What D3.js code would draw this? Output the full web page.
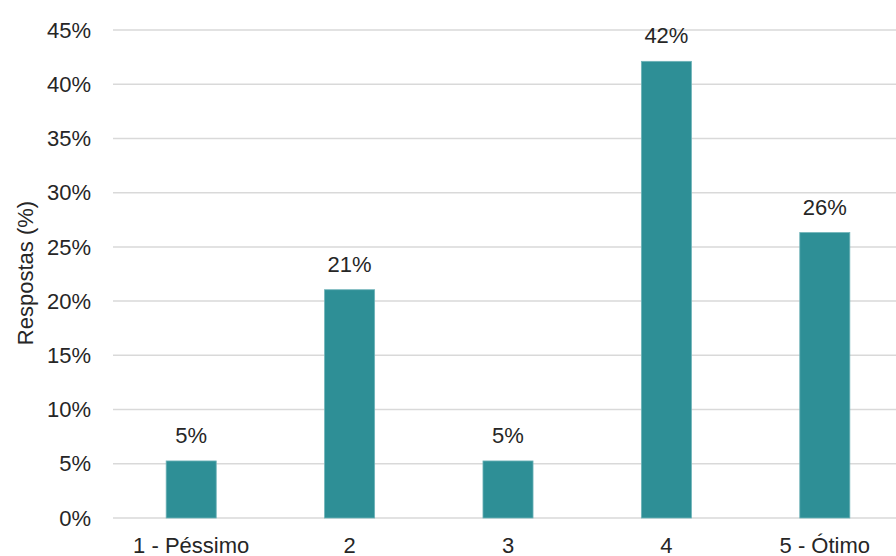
<!DOCTYPE html>
<html>
<head>
<meta charset="utf-8">
<script src="https://cdn.jsdelivr.net/npm/d3@7"></script>
<style>
  body { margin: 0; background: #fff; }
  svg text { font-family: "Liberation Sans", Arial, sans-serif; fill: #262626; }
</style>
</head>
<body>
<div id="chart"></div>
<script>
const width = 896,
    height = 556;

// dados (19 respostas no total)
var categorias = ["1 - Péssimo", "2", "3", "4", "5 - Ótimo"];
var respostas = [5.26, 21.05, 5.26, 42.11, 26.32];
var ticksY = [0, 5, 10, 15, 20, 25, 30, 35, 40, 45];
var rotulos = ["5%", "21%", "5%", "42%", "26%"];

var margin = {left: 112, right: -8, top: 30, bottom: 38};

var svg = d3.select("#chart").append("svg")
    .attr("width", width)
    .attr("height", height);

var x = d3.scaleBand()
    .domain(categorias)
    .range([margin.left, width - margin.right])
    .paddingInner(0.684)
    .paddingOuter(0.342);

var y = d3.scaleLinear()
    .domain([0, 45])
    .range([height - margin.bottom, margin.top]);

// linhas de grade
svg.append("g")
    .selectAll("line")
    .data(ticksY)
    .join("line")
    .attr("x1", margin.left + 1)
    .attr("x2", width)
    .attr("y1", d => y(d))
    .attr("y2", d => y(d))
    .attr("stroke", "#d9d9d9")
    .attr("stroke-width", 1.5);

// rótulos do eixo y
svg.append("g")
    .selectAll("text")
    .data(ticksY)
    .join("text")
    .attr("x", 91)
    .attr("y", d => y(d))
    .attr("dy", "0.35em")
    .attr("text-anchor", "end")
    .style("font-size", "22px")
    .text(d => d + "%");

// barras
svg.append("g")
    .selectAll("rect")
    .data(respostas)
    .join("rect")
    .attr("x", (d, i) => x(categorias[i]))
    .attr("width", x.bandwidth())
    .attr("y", d => y(d))
    .attr("height", d => y(0) - y(d))
    .attr("fill", "#2e8f96")
    .attr("stroke", "#6fb3b8")
    .attr("stroke-width", 0.8);

// rótulos de dados
svg.append("g")
    .selectAll("text")
    .data(respostas)
    .join("text")
    .attr("x", (d, i) => x(categorias[i]) + x.bandwidth() / 2)
    .attr("y", d => y(d) - 18)
    .attr("text-anchor", "middle")
    .style("font-size", "22px")
    .text((d, i) => rotulos[i]);

// categorias do eixo x
svg.append("g")
    .selectAll("text")
    .data(categorias)
    .join("text")
    .attr("x", d => x(d) + x.bandwidth() / 2)
    .attr("y", y(0) + 35)
    .attr("text-anchor", "middle")
    .style("font-size", "22px")
    .text(d => d);

// título do eixo y
svg.append("text")
    .attr("transform", "translate(33," + 273 + ") rotate(-90)")
    .attr("text-anchor", "middle")
    .style("font-size", "22px")
    .text("Respostas (%)");
</script>
</body>
</html>
